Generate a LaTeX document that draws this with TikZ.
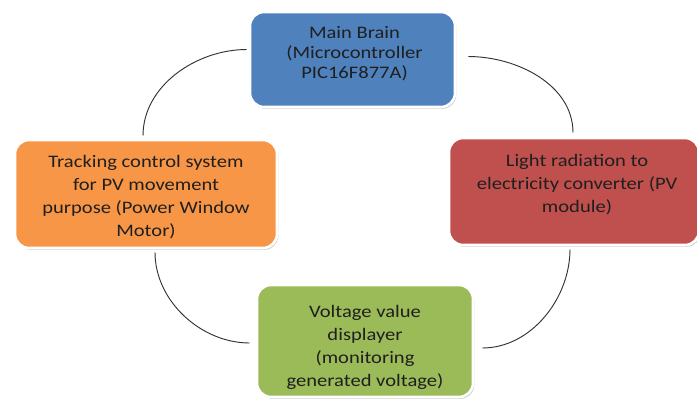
\documentclass[tikz,border=0pt]{standalone}
\usepackage{fontspec}
\setmainfont{Carlito}[FakeStretch=1.17]
\usepackage{tikz}
\usetikzlibrary{calc,shadows}
\definecolor{brainBlue}{HTML}{4F81BD}
\definecolor{pvRed}{HTML}{C0504D}
\definecolor{trackOrange}{HTML}{F79646}
\definecolor{displayGreen}{HTML}{9BBB59}
\definecolor{textDark}{HTML}{1F1F1F}

\begin{document}
\begin{tikzpicture}[x=0.03cm,y=-0.03cm,
  blok/.style={rounded corners=12pt,draw=white,line width=2.2pt,
    drop shadow={shadow xshift=1.2pt,shadow yshift=-1.6pt,opacity=0.35}},
  yazi/.style={align=center,text=textDark,inner sep=0pt,
    font=\fontsize{15}{19.6}\selectfont},
  halka/.style={black!80,line width=0.8pt}]
\useasboundingbox (0,0) rectangle (697,408);
% kutular
\node[blok,fill=brainBlue,minimum width=205*0.03cm,minimum height=95*0.03cm]
  (brain) at (352.5,59.5) {};
\node[blok,fill=pvRed,minimum width=250*0.03cm,minimum height=107*0.03cm]
  (panel) at (574,191.5) {};
\node[blok,fill=displayGreen,minimum width=216*0.03cm,minimum height=112*0.03cm]
  (display) at (365,341) {};
\node[blok,fill=trackOrange,minimum width=262*0.03cm,minimum height=108*0.03cm]
  (tracker) at (146,194) {};
% yazilar
\node[yazi,font=\fontsize{15}{17}\selectfont] (brainText) at ($(brain.center)+(2,-6)$)
  {Main Brain\\(Microcontroller\\PIC16F877A)};
\node[yazi] (panelText) at (577,185) {Light radiation to\\electricity converter (PV\\module)};
\node[yazi] (displayText) at (365,347) {Voltage value\\displayer\\(monitoring\\generated voltage)};
\node[yazi] (trackerText) at (146,197) {Tracking control system\\for PV movement\\purpose (Power Window\\Motor)};
% baglanti yaylari
\draw[halka] ($(brain.west)+(-2,-10)$) to[out=180,in=90,looseness=0.95] ($(tracker.north)+(-3,-3)$);
\draw[halka] ($(brain.east)+(12,-3)$) to[out=0,in=90,looseness=0.95] ($(panel.north)+(-1,-4)$);
\draw[halka] ($(tracker.south)+(9,3)$) to[out=-90,in=180,looseness=0.95] ($(display.west)+(-6,2)$);
\draw[halka] ($(panel.south)+(-4,3)$) to[out=-90,in=0,looseness=0.95] ($(display.east)+(8,7)$);
\end{tikzpicture}
\end{document}
